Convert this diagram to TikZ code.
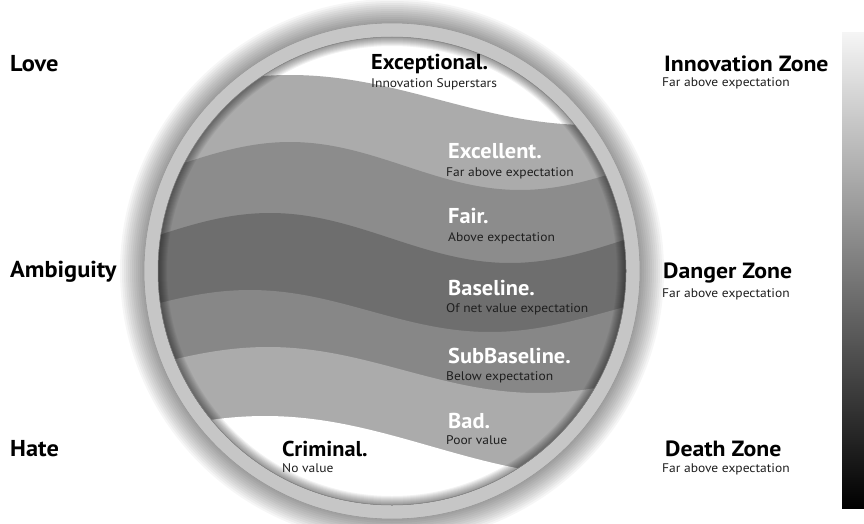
\documentclass[tikz,border=0pt]{standalone}
\usepackage{fontspec}
\setmainfont{PT Sans}
\newfontfamily\zonefont[FakeStretch=1.08]{PT Sans}
\newfontfamily\bandfont[FakeStretch=1.04]{PT Sans}
\newfontfamily\leftfont[FakeStretch=1.06]{PT Sans}
\newfontfamily\notefont[FakeStretch=1.08]{PT Sans}
\begin{document}
\begin{tikzpicture}[x=1pt,y=-1pt,
  lefthead/.style={anchor=base west,inner sep=0pt,font=\leftfont\fontsize{23}{25}\selectfont\bfseries},
  zonehead/.style={anchor=base west,inner sep=0pt,font=\zonefont\fontsize{22}{24}\selectfont\bfseries},
  darkhead/.style={anchor=base west,inner sep=0pt,font=\bandfont\fontsize{21.5}{23}\selectfont\bfseries},
  bandhead/.style={darkhead,text=white},
  subtext/.style={anchor=base west,inner sep=0pt,text=black!88,font=\notefont\fontsize{12.5}{14}\selectfont},
]
\definecolor{ringgray}{HTML}{C6C6C6}
\definecolor{bandA}{HTML}{ABABAB}
\definecolor{bandB}{HTML}{8C8C8C}
\definecolor{bandC}{HTML}{6E6E6E}
\definecolor{bandD}{HTML}{878787}
\definecolor{bandE}{HTML}{ABABAB}
% wave boundary: centre line, amplitude, crest position, half wavelength
\newcommand\wave[4]{plot[domain=130:660,samples=100] (\x,{#1-#2*cos((\x-#3)/#4*180)})}

\useasboundingbox (0,0) rectangle (864,524);
\fill[white] (0,0) rectangle (864,524);
\coordinate (C) at (392,271);

% soft shadow around the lens
\foreach \i in {0,...,11}
  \fill[black,opacity=0.035] (C) circle[radius={272pt-\i*2pt}];

% rim
\fill[ringgray] (C) circle[radius=248pt];
\draw[black!40,line width=0.6pt] (C) circle[radius=248pt];
\fill[white] (C) circle[radius=234pt];

% wavy bands inside the lens
\begin{scope}
  \clip (C) circle[radius=234pt];
  \fill[bandA] \wave{100}{25}{290}{300} -- (660,540) -- (130,540) -- cycle;
  \fill[bandB] \wave{166}{24}{290}{230} -- (660,540) -- (130,540) -- cycle;
  \fill[bandC] \wave{238}{25}{270}{240} -- (660,540) -- (130,540) -- cycle;
  \fill[bandD] \wave{311}{21}{250}{240} -- (660,540) -- (130,540) -- cycle;
  \fill[bandE] \wave{370}{23}{268}{270} -- (660,540) -- (130,540) -- cycle;
  \fill[white] \wave{446}{30}{265}{330} -- (660,540) -- (130,540) -- cycle;
  % inner shadow under the rim
  \foreach \w in {2,4,...,18}
    \draw[black,opacity=0.05,line width=\w pt] (C) circle[radius=234pt];
\end{scope}
\draw[black!50,line width=0.5pt] (C) circle[radius=234pt];

% value scale
\shade[top color=white!96!black,bottom color=black] (842,33) rectangle (864,508);

% left labels
\node[lefthead] (love) at (10,72) {Love};
\node[lefthead] (amb) at (10,277) {Ambiguity};
\node[lefthead] (hate) at (10,456) {Hate};

% zone labels
\node[zonehead] (iz) at (664,72) {Innovation Zone};
\node[subtext] (izs) at (662,87) {Far above expectation};
\node[zonehead] (dz) at (663,278) {Danger Zone};
\node[subtext] (dzs) at (662,297) {Far above expectation};
\node[zonehead] (death) at (665,456) {Death Zone};
\node[subtext] (deaths) at (662,472) {Far above expectation};

% band labels
\node[darkhead] (exc) at (371,69.5) {Exceptional.};
\node[subtext] (excs) at (371,88) {Innovation Superstars};
\node[bandhead] (exl) at (448,158) {Excellent.};
\node[subtext] (exls) at (446,176) {Far above expectation};
\node[bandhead] (fair) at (448,223) {Fair.};
\node[subtext] (fairs) at (448,241) {Above expectation};
\node[bandhead] (base) at (448,295) {Baseline.};
\node[subtext] (bases) at (446,312) {Of net value expectation};
\node[bandhead] (sub) at (448,363) {SubBaseline.};
\node[subtext] (subs) at (446,380) {Below expectation};
\node[bandhead] (bad) at (448,428) {Bad.};
\node[subtext] (bads) at (446,444) {Poor value};
\node[darkhead] (crim) at (282,456) {Criminal.};
\node[subtext] (crims) at (282,472) {No value};
\end{tikzpicture}
\end{document}
